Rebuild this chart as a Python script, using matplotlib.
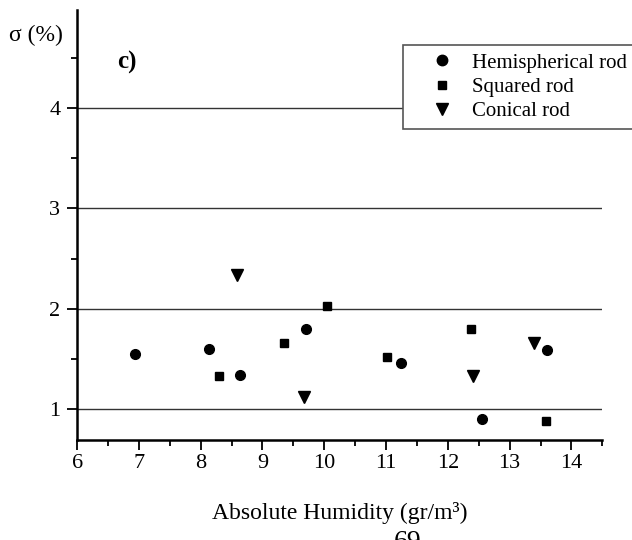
import matplotlib
matplotlib.use('Agg')
import matplotlib.pyplot as plt
from matplotlib.ticker import MultipleLocator
from matplotlib.lines import Line2D

# data
hemi_x = [6.93, 8.14, 8.64, 9.70, 11.24, 12.55, 13.60]
hemi_y = [1.55, 1.60, 1.34, 1.80, 1.46, 0.90, 1.59]
square_x = [8.29, 9.35, 10.04, 11.02, 12.38, 13.59]
square_y = [1.33, 1.66, 2.03, 1.52, 1.80, 0.88]
cone_x = [8.59, 9.67, 12.40, 13.39]
cone_y = [2.34, 1.12, 1.33, 1.66]

labels = ['Hemispherical rod', 'Squared rod', 'Conical rod']

plt.rcParams['font.family'] = ['Liberation Serif', 'DejaVu Serif']

fig = plt.figure(figsize=(6.32, 5.4), dpi=100)
ax = fig.add_axes([0.122, 0.185, 0.831, 0.797])

#gridlines at integer sigma
for yv in [1, 2, 3, 4]:
    ax.axhline(yv, color='#333333', linewidth=1.0, zorder=1)

ax.plot(hemi_x, hemi_y, 'o', color='black', markersize=7, zorder=3)
ax.plot(square_x, square_y, 's', color='black', markersize=6, zorder=3)
ax.plot(cone_x, cone_y, 'v', color='black', markersize=8, zorder=3)

ax.set_xlim(6, 14.5)
ax.set_ylim(0.69, 4.98)
ax.xaxis.set_major_locator(MultipleLocator(1))
ax.xaxis.set_minor_locator(MultipleLocator(0.5))
ax.yaxis.set_major_locator(MultipleLocator(1))
ax.yaxis.set_minor_locator(MultipleLocator(0.5))
ax.tick_params(which='major', direction='out', length=7, width=1.3, labelsize=16, colors='black')
ax.tick_params(which='minor', direction='out', length=4, width=1.3)
ax.tick_params(axis='x', pad=3)
ax.tick_params(axis='y', pad=5)

ax.spines['top'].set_visible(False)
ax.spines['right'].set_visible(False)
ax.spines['left'].set_linewidth(1.8)
ax.spines['bottom'].set_linewidth(1.8)

ax.set_xlabel('Absolute Humidity (gr/m\u00b3)', fontsize=17, labelpad=21)
fig.text(0.015, 0.935, '\u03c3 (%)', fontsize=17, ha='left', va='center')
fig.text(0.186, 0.884, 'c)', fontsize=18, fontweight='bold', ha='left', va='center')
# page number cut at the bottom edge
fig.text(0.645, -0.016, '69', fontsize=20, ha='center', va='baseline')

handles = [Line2D([], [], marker='o', color='black', linestyle='none', markersize=7.5),
           Line2D([], [], marker='s', color='black', linestyle='none', markersize=6),
           Line2D([], [], marker='v', color='black', linestyle='none', markersize=8)]
leg = fig.legend(handles, labels, loc='upper left', bbox_to_anchor=(0.637, 0.917),
                 frameon=True, fancybox=False, fontsize=15, handlelength=2.95,
                 handletextpad=0.0, labelspacing=0.22, borderpad=0.4,
                 borderaxespad=0, framealpha=1)
leg.get_frame().set_edgecolor('#555555')
leg.get_frame().set_linewidth(1.2)

plt.savefig('out.png', dpi=100)
